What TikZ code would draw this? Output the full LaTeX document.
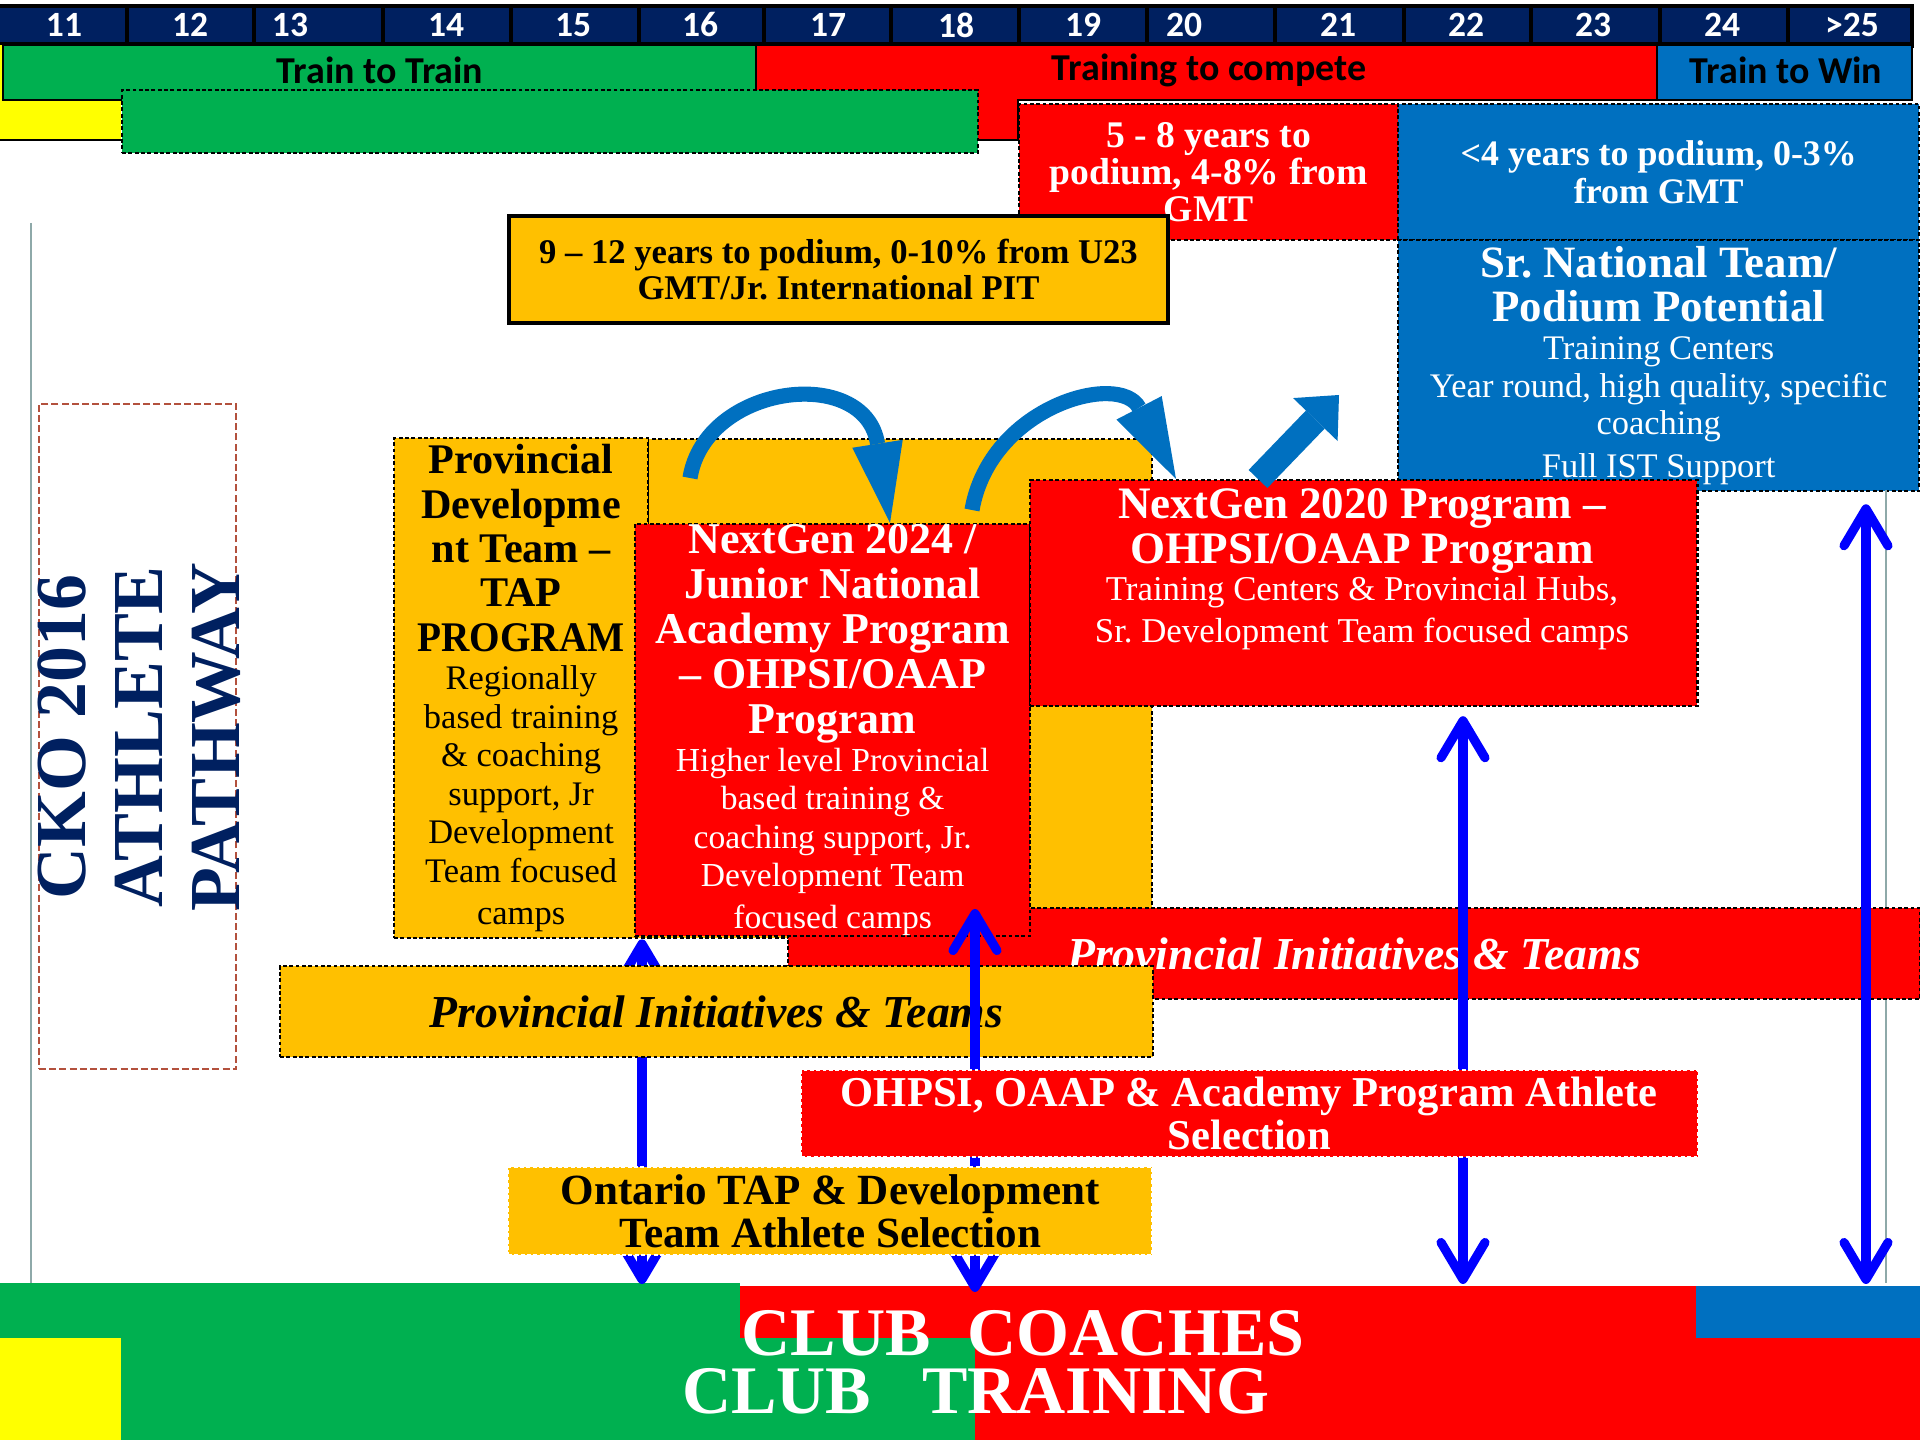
\documentclass[tikz,border=0pt]{standalone}
\usepackage{fontspec}
\usepackage{graphicx}
\setmainfont{Liberation Serif}
\newfontfamily\calibri{Carlito}
\usetikzlibrary{arrows.meta}
\definecolor{navy}{HTML}{002060}
\definecolor{grn}{HTML}{00B050}
\definecolor{amber}{HTML}{FFC000}
\definecolor{ocean}{HTML}{0070C0}
\definecolor{ylw}{HTML}{FFFF00}
\definecolor{rulegrey}{HTML}{8EA9A9}
\definecolor{brick}{HTML}{B3513D}
\newcommand{\fsz}[2]{\fontsize{#1pt}{#2pt}\selectfont}
\setlength{\parindent}{0pt}
\AtBeginDocument{\frenchspacing}

\begin{document}
\begin{tikzpicture}[x=0.01cm, y=-0.01cm,
		panel/.style={draw, line width=0.6pt, dash pattern=on 1.1pt off 0.7pt, inner sep=0pt, anchor=north west, align=flush center},
		band/.style={font=\calibri\bfseries\fsz{10.8}{12}},
		bluarrow/.style={blue, line width=2.6pt, <->, >={Straight Barb[length=10.5pt, width=12.5pt, round]}},
		hop/.style={ocean, line width=4.3pt, -{Triangle[length=22.8pt, width=14.5pt, line width=0pt]}}]
	\useasboundingbox (0,0) rectangle (1920,1440);
	\fill[white] (0,0) rectangle (1920,1440);
	
	% age scale
	\fill[navy] (0,6) rectangle (1914,44);
	\draw[line width=0.9pt] (0,6) -- (1914,6) (0,44) -- (1914,44);
	\foreach \x in {127,254,383,511,639,764,891,1019,1147,1275,1404,1531,1660,1788,1912}
		\draw[line width=0.9pt] (\x,6) -- (\x,48);
	\foreach \x/\age [count=\i] in {64/11,190/12,290/13,446/14,573/15,700/16,828/17,956/18,1083/19,1184/20,1338/21,1466/22,1593/23,1722/24,1852/{>25}}
		\node[white, font=\calibri\bfseries\fsz{10.1}{12}] (age\i) at (\x,25) {\age};
	
	% stages
	\fill[ylw] (0,45) rectangle (121,140);
	\draw[line width=0.8pt] (0,140) -- (121,140);
	\draw[fill=red, line width=0.8pt] (756,45) -- (1657,45) -- (1657,100) -- (1018,100) -- (1018,140) -- (756,140) -- cycle;
	\draw[fill=grn, line width=0.8pt] (3,45) rectangle (756,100);
	\draw[fill=ocean, line width=0.8pt] (1657,45) rectangle (1912,100);
	\node[band] (t2t) at (380,70) {Train to Train};
	\node[band] (t2c) at (1209,70) {Training to compete};
	\node[band] (t2w) at (1786,70) {Train to Win};
	\node[panel, fill=grn, minimum width=8.55cm, minimum height=0.63cm] (stripe) at (121,89) {};
	
	% club level
	\fill[grn] (0,1283) rectangle (740,1338);
	\fill[red] (740,1286) rectangle (1696,1338);
	\fill[ocean] (1696,1286) rectangle (1920,1338);
	\fill[ylw] (0,1338) rectangle (121,1440);
	\fill[grn] (121,1338) rectangle (975,1440);
	\fill[red] (975,1338) rectangle (1920,1440);
	\node[white, inner sep=0pt, font=\bfseries\fsz{19.35}{22}] (coaches) at (1023,1333) {CLUB\hspace{0.37cm}COACHES};
	\node[white, inner sep=0pt, font=\bfseries\fsz{19.35}{22}] (training) at (976,1391) {CLUB\hspace{0.51cm}TRAINING};
	\coordinate (club) at (0,1284);
	
	% podium boxes
	\node[panel, fill=red, text=white, minimum width=3.79cm, minimum height=1.36cm, font=\bfseries\fsz{10.7}{10.5}] (five) at (1018,103) {5 - 8 years to\\podium, 4-8\% from\\GMT};
	\node[panel, fill=ocean, text=white, minimum width=5.21cm, minimum height=1.36cm, font=\bfseries\fsz{10.2}{10.8}] (four) at (1397,103) {<4 years to podium, 0-3\%\\from GMT};
	\node[panel, fill=ocean, text=white, minimum width=5.21cm, minimum height=2.51cm, text width=5.1cm] (srnat) at (1397,239) {\bfseries\fsz{12.75}{12.5}Sr. National Team/\\Podium Potential\par
		\mdseries\fsz{9.8}{10.7}Training Centers\\Year round, high quality, specific\\coaching\\Full IST Support};
	\node[panel, solid, line width=1pt, fill=amber, minimum width=6.59cm, minimum height=1.07cm, font=\bfseries\fsz{9.85}{10.24}] (nine) at (507,214) {9 – 12 years to podium, 0-10\% from U23\\GMT/Jr. International PIT};
	
	% title
	\draw[rulegrey, line width=0.6pt] (31,223) -- (31,1283);
	\draw[rulegrey, line width=0.6pt] (1886,490) -- (1886,1283);
	\node[panel, draw=brick, dash pattern=on 2pt off 0.9pt, minimum width=1.97cm, minimum height=6.65cm] (titlebox) at (38,403) {};
	\node[rotate=90, align=center, text=navy, font=\bfseries\fsz{20.4}{21.9}] (title) at (139,737) {CKO 2016\\ATHLETE\\PATHWAY};
	
	% programs
	\node[panel, fill=amber, minimum width=5.04cm, minimum height=4.99cm] (provbg) at (647,438) {};
	\node[panel, fill=amber, minimum width=2.54cm, minimum height=5cm, text width=2.5cm] (provdev) at (393,437) {\bfseries\fsz{12}{12.6}Provincial\\Developme\\nt Team –\\TAP\\\scalebox{0.93}[1]{PROGRAM}\par
		\mdseries\fsz{9.8}{10.95}Regionally\\based training\\\& coaching\\support, Jr\\Development\\Team focused\\camps};
	\node[panel, fill=red, text=white, minimum width=11.31cm, minimum height=0.91cm, font=\bfseries\itshape\fsz{13}{14}] (initred) at (787,907) {Provincial Initiatives \& Teams};
	
	\coordinate (hopa) at (690,478);
	\coordinate (hopb) at (972,510);
	\coordinate (hopc) at (1339,395);
	\coordinate (tipa) at (890,0);
	\coordinate (tipb) at (1176,0);
	\coordinate (tailc) at (1258,0);
	
	\node[panel, fill=red, text=white, minimum width=3.95cm, minimum height=4.02cm, text width=3.9cm] (ng24) at (634,523) {\bfseries\fsz{12.5}{12.8}NextGen 2024 /\\Junior National\\Academy Program\\– OHPSI/OAAP\\Program\par
		\mdseries\fsz{9.55}{10.9}Higher level Provincial\\based training \&\\coaching support, Jr.\\Development Team\\focused camps};
	\node[panel, fill=red, minimum width=6.67cm, minimum height=2.26cm] (ng20) at (1029,479) {};
	\node[text=white, align=flush center, text width=6.5cm, inner sep=0pt] (ng20txt) at (1362,569) {\bfseries\fsz{12.8}{12.8}NextGen 2020 Program –\\OHPSI/OAAP Program\par
		\mdseries\fsz{9.9}{10.6}Training Centers \& Provincial Hubs,\\Sr. Development Team focused camps};
	
	\draw[hop] (hopa) .. controls (705,384) and (865,364) .. (ng24.north -| tipa);
	\draw[hop] (hopb) .. controls (990,406) and (1120,371) .. (ng20.north -| tipb);
	\draw[hop, line width=7.4pt, -{Triangle[length=9.7pt, width=17.6pt, line width=0pt]}] (ng20.north -| tailc) -- (hopc);
	
	% selection
	\coordinate (a1) at (642,0);
	\coordinate (a2) at (975,0);
	\coordinate (a3) at (1463,0);
	\coordinate (a4) at (1866,0);
	\draw[bluarrow] (provdev.south -| a1) -- (club -| a1);
	
	\node[panel, fill=amber, minimum width=8.72cm, minimum height=0.91cm, font=\bfseries\itshape\fsz{13}{14}] (initamb) at (279,965) {Provincial Initiatives \& Teams};
	
	\draw[bluarrow, shorten <=-0.28cm, shorten >=-0.08cm] (ng24.south -| a2) -- (club -| a2);
	\draw[bluarrow, shorten <=0.09cm] (ng20.south -| a3) -- (club -| a3);
	\draw[bluarrow, shorten <=0.12cm] (srnat.south -| a4) -- (club -| a4);
	
	\node[panel, draw=white, fill=red, text=white, minimum width=8.96cm, minimum height=0.87cm, font=\bfseries\fsz{12.1}{12.3}] (selred) at (800,1069) {OHPSI, OAAP \& Academy Program Athlete\\Selection};
	\node[panel, draw=white, fill=amber, minimum width=6.44cm, minimum height=0.88cm, font=\bfseries\fsz{12.25}{12.3}] (selamb) at (507,1166) {Ontario TAP \& Development\\Team Athlete Selection};
\end{tikzpicture}
\end{document}
